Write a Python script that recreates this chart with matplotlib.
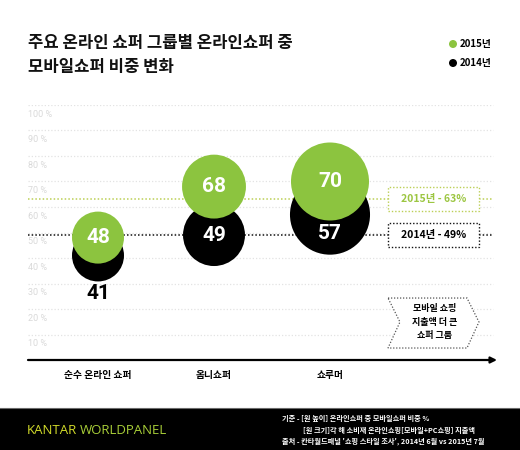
import matplotlib.pyplot as plt
from matplotlib.patches import Rectangle, Polygon

plt.rcParams["font.family"] = ["Noto Sans CJK KR", "DejaVu Sans"]

groups = ["순수 온라인 쇼퍼", "옴니쇼퍼", "쇼루머"]
share_2015 = [48, 68, 70]
share_2014 = [41, 49, 57]
# relative bubble area (spend index, first group = 1)
spend_2015 = [1.0, 1.51, 2.25]
spend_2014 = [1.0, 1.42, 2.37]
avg_2015 = 63
avg_2014 = 49
ticks = [10, 20, 30, 40, 50, 60, 70, 80, 90, 100]

GREEN = "#8cc43f"
DPI = 100
PX = 72 / DPI  # points per pixel
PX_PER_PCT = 2.55

fig = plt.figure(figsize=(5.2, 4.5), dpi=DPI)
fig.patch.set_facecolor("white")

# axes: x 28..497 px, y 0% at 360 px, 100% at 105 px
ax = fig.add_axes([28 / 520, 90 / 450, 469 / 520, 255 / 450])
ax.set_xlim(-70 / 116, 2 + 167 / 116)
ax.set_ylim(0, 100)
ax.axis("off")

x_end = 2 + 163 / 116
x0 = -70 / 116

for t in ticks:
    ax.plot([x0, x_end], [t, t], color="#e3e3e3", lw=0.9,
            linestyle=(0, (1, 1.6)), zorder=1)
    ax.annotate(f"{t} %", (x0, t), xytext=(0, -6.5), textcoords="offset points",
                ha="left", va="center", fontsize=6.5, color="#d9d9d9",
                fontfamily=["Roboto", "DejaVu Sans"])

ax.plot([x0, x_end], [avg_2015, avg_2015], color="#bccf55", lw=1.1,
        linestyle=(0, (1, 1.4)), zorder=1)
ax.plot([x0, x_end], [avg_2014, avg_2014], color="#111111", lw=1.1,
        linestyle=(0, (1, 1.4)), zorder=1)

# base axis with arrow
ax.annotate("", xy=(2 + 167 / 116, 0), xytext=(x0, 0),
            arrowprops=dict(arrowstyle="-|>", color="black", lw=1.6,
                            mutation_scale=9, shrinkA=0, shrinkB=0),
            annotation_clip=False, zorder=2)

xs = list(range(len(groups)))
r_base = 26  # px radius of the first bubble
s_base = (2 * r_base * PX) ** 2

ax.scatter(xs, share_2014, s=[v * s_base for v in spend_2014], color="black",
           edgecolors="none", zorder=3)
ax.scatter(xs, share_2015, s=[v * s_base for v in spend_2015], color=GREEN,
           edgecolors="none", zorder=4)

num_font = ["Roboto", "DejaVu Sans"]
num_kw = dict(ha="center", va="center", fontsize=15, fontweight="bold",
              zorder=5, fontfamily=num_font, textcoords="offset points")
for i in xs:
    ax.annotate(str(share_2015[i]), (i, share_2015[i]), xytext=(0, 0),
                color="white", **num_kw)
    r14 = r_base * spend_2014[i] ** 0.5
    r15 = r_base * spend_2015[i] ** 0.5
    gap = (share_2015[i] - share_2014[i]) * PX_PER_PCT  # px between centres
    g_edge = r15 - gap  # green bottom edge, px below black centre
    black_band = r14 - g_edge  # visible black strip under the green bubble
    if black_band < 25:
        # mostly covered: put the number under the black bubble
        ax.annotate(str(share_2014[i]), (i, share_2014[i]),
                    xytext=(0, -(r14 + 12) * PX), color="black", **num_kw)
    else:
        dy = max(0, g_edge + 13)
        ax.annotate(str(share_2014[i]), (i, share_2014[i]),
                    xytext=(0, -dy * PX), color="white", **num_kw)
    ax.text(i, -5.7, groups[i], ha="center", va="center", fontsize=7,
            fontweight="bold", color="black")

# average boxes
bx0, bx1 = 2.5, 3.284
bh = 4.7
ax.add_patch(Rectangle((bx0, avg_2015 - bh), bx1 - bx0, 2 * bh, facecolor="white",
                       edgecolor="#bccf55", lw=1.0, linestyle=(0, (1, 1.4)),
                       zorder=6))
ax.text((bx0 + bx1) / 2, avg_2015, f"2015년 - {avg_2015}%", ha="center",
        va="center", fontsize=7.5, fontweight="bold", color="#9cc641", zorder=7)
ax.add_patch(Rectangle((bx0, avg_2014 - bh), bx1 - bx0, 2 * bh, facecolor="white",
                       edgecolor="#111111", lw=1.0, linestyle=(0, (1, 1.4)),
                       zorder=6))
ax.text((bx0 + bx1) / 2, avg_2014, f"2014년 - {avg_2014}%", ha="center",
        va="center", fontsize=7.5, fontweight="bold", color="black", zorder=7)

# chevron note
chev = [(2.5, 24.3), (3.181, 24.3), (3.284, 14.9), (3.181, 4.7), (2.5, 4.7),
        (2.603, 14.9)]
ax.add_patch(Polygon(chev, closed=True, facecolor="white", edgecolor="#555555",
                     lw=0.9, linestyle=(0, (1, 1.4)), zorder=6))
ax.text(2.905, 14.9, "모바일 쇼핑\n지출액 더 큰\n쇼퍼 그룹", ha="center",
        va="center", fontsize=6.5, fontweight="bold", color="black",
        linespacing=1.6, zorder=7)

# title
fig.text(28 / 520, 1 - 43 / 450, "주요 온라인 쇼퍼 그룹별 온라인쇼퍼 중",
         ha="left", va="center", fontsize=12, fontweight="bold", color="#111111")
fig.text(28 / 520, 1 - 67 / 450, "모바일쇼퍼 비중 변화",
         ha="left", va="center", fontsize=12, fontweight="bold", color="#111111")

# legend
lg = fig.add_axes([0, 0, 1, 1], facecolor="none")
lg.set_xlim(0, 520)
lg.set_ylim(450, 0)
lg.axis("off")
lg.scatter([453], [44], s=(8 * PX) ** 2, color=GREEN, edgecolors="none")
lg.scatter([453], [63], s=(8 * PX) ** 2, color="black", edgecolors="none")
lg.text(460, 44, "2015년", ha="left", va="center", fontsize=7, fontweight="bold")
lg.text(460, 63, "2014년", ha="left", va="center", fontsize=7, fontweight="bold")

# footer band
lg.add_patch(Rectangle((0, 408), 520, 42, facecolor="black", edgecolor="none"))
lg.plot([0, 520], [408, 408], color="#6a6a6a", lw=0.8)
lg.text(27, 431, "KANTAR", ha="left", va="center", fontsize=9.5,
        color="#d3dc2a", fontfamily=["Open Sans", "DejaVu Sans"])
lg.text(80, 431, "WORLDPANEL", ha="left", va="center", fontsize=9.5,
        color="#a9cf38", fontfamily=["Open Sans", "DejaVu Sans"])
foot_kw = dict(ha="left", va="center", fontsize=5.2, fontweight="bold",
               color="white")
lg.text(282, 418, "기준 - [원 높이] 온라인쇼퍼 중 모바일쇼퍼 비중 %", **foot_kw)
lg.text(303, 430, "[원 크기]각 해 소비재 온라인쇼핑[모바일+PC쇼핑] 지출액", **foot_kw)
lg.text(282, 441, "출처 - 칸타월드패널 '쇼핑 스타일 조사', 2014년 6월 vs 2015년 7월",
        **foot_kw)

fig.savefig("out.png", dpi=DPI, facecolor="white")
